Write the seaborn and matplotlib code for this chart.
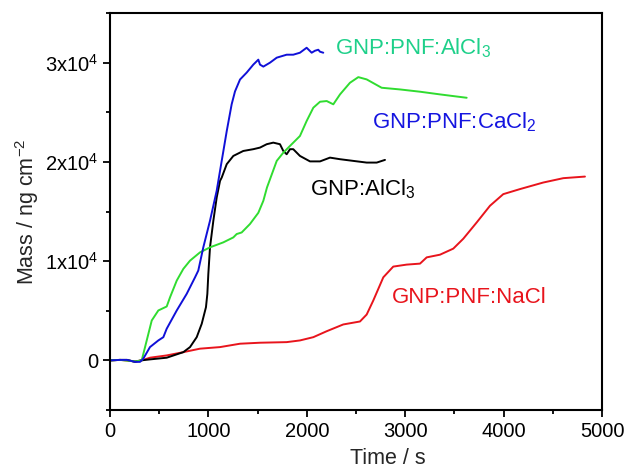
import numpy as np
import pandas as pd
import matplotlib
matplotlib.use("Agg")
import matplotlib.pyplot as plt
from matplotlib.ticker import MultipleLocator, FuncFormatter
import seaborn as sns

# QCM mass uptake over time (s, ng cm^-2)
cacl2_t = [0, 102, 173, 254, 305, 338, 406, 491, 542, 576, 678, 779, 864, 897, 948,
           1016, 1084, 1118, 1186, 1236, 1270, 1321, 1389, 1456, 1507, 1524, 1558,
           1626, 1694, 1795, 1862, 1930, 1998, 2049, 2083, 2116, 2134, 2167]
cacl2_m = [0, 50, 50, -150, -150, 170, 1340, 2010, 2340, 3190, 5030, 6700, 8370, 9050,
           11390, 14070, 17090, 19100, 23100, 25800, 27100, 28300, 29000, 29800, 30300,
           29800, 29600, 30000, 30500, 30800, 30800, 31000, 31500, 31000, 31200, 31300,
           31100, 31000]

alcl3_t = [0, 102, 173, 254, 315, 406, 576, 745, 813, 881, 932, 975, 989, 999, 1016,
           1050, 1084, 1118, 1135, 1186, 1253, 1354, 1456, 1524, 1592, 1659, 1727, 1761,
           1795, 1829, 1862, 1930, 2032, 2134, 2235, 2337, 2472, 2608, 2710, 2794]
alcl3_m = [0, 50, 50, -150, 0, 100, 270, 830, 1340, 2340, 3690, 5360, 6700, 8710, 11390,
           14070, 16410, 18090, 18420, 19770, 20600, 21100, 21280, 21440, 21780, 21940,
           21780, 21100, 20770, 21280, 21280, 20600, 20050, 20050, 20430, 20270, 20100,
           19930, 19930, 20200]

pnf_alcl3_t = [0, 102, 254, 322, 373, 424, 491, 576, 610, 678, 745, 813, 914, 1016, 1151,
               1253, 1287, 1338, 1422, 1507, 1558, 1595, 1694, 1761, 1829, 1930, 1998,
               2066, 2134, 2202, 2269, 2337, 2438, 2523, 2608, 2760, 2946, 3150, 3353,
               3488, 3624]
pnf_alcl3_m = [0, 50, -100, 0, 2010, 4020, 5030, 5430, 6360, 8040, 9220, 10050, 10880,
               11390, 11890, 12390, 12730, 12890, 13740, 14870, 16080, 17420, 20100, 20930,
               21610, 22610, 24120, 25460, 26060, 26130, 25800, 26800, 27970, 28540, 28310,
               27470, 27300, 27070, 26800, 26630, 26460]

nacl_t = [0, 102, 254, 322, 406, 576, 745, 914, 1118, 1321, 1524, 1795, 1930, 2066, 2202,
          2370, 2540, 2608, 2675, 2777, 2878, 3014, 3150, 3218, 3353, 3488, 3590, 3726,
          3861, 3996, 4166, 4402, 4606, 4826]
nacl_m = [0, 50, -100, 0, 270, 500, 830, 1180, 1340, 1680, 1780, 1840, 2010, 2340, 2940,
          3620, 3920, 4620, 6030, 8370, 9450, 9650, 9750, 10380, 10650, 11260, 12260,
          13900, 15580, 16750, 17260, 17920, 18360, 18520]

series_names = ["GNP:PNF:NaCl", "GNP:AlCl$_3$", "GNP:PNF:AlCl$_3$", "GNP:PNF:CaCl$_2$"]
line_colors = ["#e8141c", "#000000", "#30dc30", "#1010d8"]

x_ticks = [0, 1000, 2000, 3000, 4000, 5000]
y_ticks = [0, 10000, 20000, 30000]

sns.set_theme(style="ticks")
plt.rcParams["font.family"] = ["Liberation Sans", "DejaVu Sans"]
plt.rcParams["mathtext.fontset"] = "custom"
plt.rcParams["mathtext.rm"] = "Liberation Sans"
plt.rcParams["mathtext.it"] = "Liberation Sans:italic"

frames = []
for name, t, m in zip(series_names,
                      [nacl_t, alcl3_t, pnf_alcl3_t, cacl2_t],
                      [nacl_m, alcl3_m, pnf_alcl3_m, cacl2_m]):
    frames.append(pd.DataFrame({"Time": t, "Mass": m, "Sample": name}))
df = pd.concat(frames, ignore_index=True)

fig = plt.figure(figsize=(6.29, 4.68), dpi=100)
ax = fig.add_axes([0.1749, 0.1239, 0.7823, 0.8483])

sns.lineplot(data=df, x="Time", y="Mass", hue="Sample", hue_order=series_names,
             palette=dict(zip(series_names, line_colors)), sort=False,
             estimator=None, linewidth=1.4, legend=False, ax=ax)

ax.set_xlim(0, 5000)
ax.set_ylim(-5000, 35000)
ax.set_xticks(x_ticks)
ax.set_yticks(y_ticks)
ax.xaxis.set_minor_locator(MultipleLocator(500))
ax.yaxis.set_minor_locator(MultipleLocator(5000))


def sci_label(v, pos):
    if v == 0:
        return "0"
    return f"{int(round(v / 1e4))}x10$^4$"


ax.yaxis.set_major_formatter(FuncFormatter(sci_label))
ax.tick_params(which="both", direction="out", top=False, right=False,
               labelsize=14.5, colors="black", width=1.3)
ax.tick_params(which="major", length=5)
ax.tick_params(which="minor", length=3)
for s in ax.spines.values():
    s.set_linewidth(1.5)
    s.set_color("black")

ax.set_xlabel("Time / s", fontsize=15.5)
ax.set_ylabel("Mass / ng cm$^{-2}$", fontsize=15.5)
ax.xaxis.set_label_coords(0.565, -0.095)
ax.yaxis.set_label_coords(-0.14, 0.5)

# curve annotations
ax.text(2290, 31500, "GNP:PNF:AlCl$_3$", color="#1ed08a", fontsize=16, va="center")
ax.text(2660, 24000, "GNP:PNF:CaCl$_2$", color="#1515e0", fontsize=16, va="center")
ax.text(2030, 17200, "GNP:AlCl$_3$", color="black", fontsize=16, va="center")
ax.text(2860, 6300, "GNP:PNF:NaCl", color="#e8141c", fontsize=16, va="center")

fig.savefig("out.png", dpi=100)
